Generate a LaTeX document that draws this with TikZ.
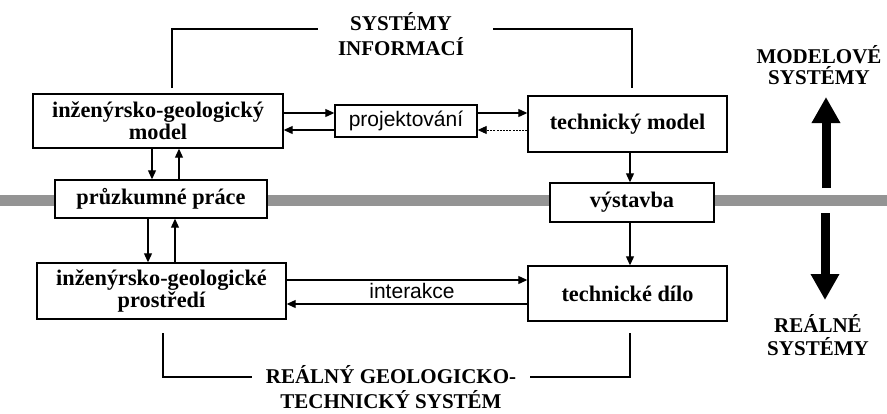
\documentclass[tikz,border=0pt]{standalone}
\usepackage{fontspec}
\setmainfont{Liberation Serif}
\newfontfamily\labelfont{Liberation Sans}
\usetikzlibrary{arrows.meta}

\begin{document}
\begin{tikzpicture}[x=1pt, y=-1pt,
    box/.style={draw, line width=1.4pt, fill=white, align=center, inner sep=0pt,
        font=\bfseries\fontsize{22.3}{22}\selectfont},
    title/.style={align=center, anchor=base, inner sep=0pt,
        font=\bfseries\fontsize{21}{25}\selectfont},
    link/.style={line width=1.1pt, -{Triangle[length=9pt,width=8pt]}},
    bracket/.style={line width=1.4pt},
    bigarrow/.style={line width=9pt, -{Triangle[length=26pt,width=27pt]}}]
    \useasboundingbox (0,0) rectangle (887,413);

    % grey band between model and real systems
    \fill[black!42] (0,195) rectangle (887,206);

    % boxes of the model level
    \node[box, minimum width=250pt, minimum height=54pt] (igmodel) at (158,121)
        {inženýrsko-geologický\\model};
    \node[box, minimum width=142pt, minimum height=32pt,
        font=\labelfont\fontsize{21}{21}\selectfont] (proj) at (406,121) {projektování};
    \node[box, minimum width=199pt, minimum height=56pt] (techmodel) at (627.5,124)
        {technický model};

    % boxes on the band
    \node[box, minimum width=212pt, minimum height=38pt] (pruzkum) at (161,199)
        {průzkumné práce};
    \node[box, minimum width=164pt, minimum height=39pt] (vystavba) at (632,202.5)
        {výstavba};

    % boxes of the real level
    \node[box, minimum width=249pt, minimum height=56pt] (igprostredi) at (161.5,291)
        {inženýrsko-geologické\\prostředí};
    \node[box, minimum width=199pt, minimum height=55pt] (dilo) at (627.5,293.5)
        {technické dílo};

    % horizontal links
    \draw[link] (igmodel.east |- 0,113) -- (proj.west |- 0,113);
    \draw[link] (proj.west |- 0,130) -- (igmodel.east |- 0,130);
    \draw[link] (proj.east |- 0,113) -- (techmodel.west |- 0,113);
    \draw[link, line width=0.9pt, dash pattern=on 2pt off 1.2pt]
        (techmodel.west |- 0,130) -- (proj.east |- 0,130);
    \draw[link] (igprostredi.east |- 0,280) -- (dilo.west |- 0,280);
    \draw[link] (dilo.west |- 0,304) -- (igprostredi.east |- 0,304);
    \node[font=\labelfont\fontsize{21}{21}\selectfont, anchor=base] (interakce)
        at (412,298) {interakce};

    % vertical links
    \draw[link] (igmodel.south -| 152,0) -- (pruzkum.north -| 152,0);
    \draw[link] (pruzkum.north -| 179,0) -- (igmodel.south -| 179,0);
    \draw[link] (pruzkum.south -| 148,0) -- (igprostredi.north -| 148,0);
    \draw[link] (igprostredi.north -| 175,0) -- (pruzkum.south -| 175,0);
    \draw[link] (techmodel.south -| 630,0) -- (vystavba.north -| 630,0);
    \draw[link] (vystavba.south -| 630,0) -- (dilo.north -| 630,0);

    % brackets with their titles
    \node[title] (info) at (401,55) {SYSTÉMY\\INFORMACÍ};
    \draw[bracket] (172,88) -- (172,29) -- (318,29);
    \draw[bracket] (493,29) -- (632,29) -- (632,88);
    \node[title] (realgeo) at (391,408) {REÁLNÝ GEOLOGICKO-\\TECHNICKÝ SYSTÉM};
    \draw[bracket] (163,333) -- (163,377) -- (252,377);
    \draw[bracket] (530,377) -- (630,377) -- (630,333);

    % the two levels on the right
    \node[title, font=\bfseries\fontsize{21}{21}\selectfont] (modelove) at (819,84)
        {MODELOVÉ\\SYSTÉMY};
    \node[title, font=\bfseries\fontsize{21}{23}\selectfont] (realne) at (818,355)
        {REÁLNÉ\\SYSTÉMY};
    \coordinate (upfoot) at (826,188);
    \coordinate (uptip) at (826,97);
    \coordinate (downfoot) at (825,213);
    \coordinate (downtip) at (825,300);
    \draw[bigarrow] (upfoot) -- (uptip);
    \draw[bigarrow] (downfoot) -- (downtip);
\end{tikzpicture}
\end{document}
